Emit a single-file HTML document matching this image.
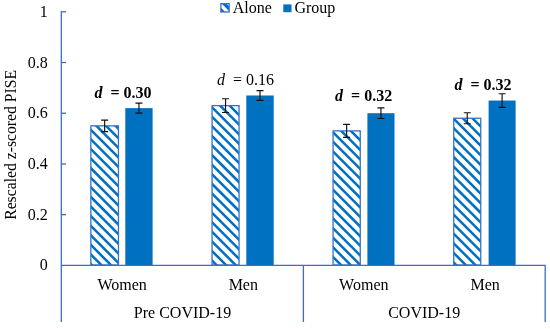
<!DOCTYPE html>
<html><head><meta charset="utf-8"><title>chart</title>
<style>
html,body{margin:0;padding:0;background:#fff;}
body{width:550px;height:329px;overflow:hidden;}
svg{display:block;will-change:transform;}
text{font-family:"Liberation Serif","Times New Roman",serif;font-size:16px;fill:#000;}
</style></head><body>
<svg width="550" height="329" viewBox="0 0 550 329">
<defs>
</defs>
<rect width="550" height="329" fill="#fff"/>

<clipPath id="c0"><rect x="90.85" y="125.85" width="27.60" height="139.15"/></clipPath>
<rect x="90.85" y="125.85" width="27.60" height="139.15" fill="#fff"/>
<path clip-path="url(#c0)" d="M87.85,69.32 L121.45,102.92 M87.85,78.91 L121.45,112.51 M87.85,88.50 L121.45,122.10 M87.85,98.09 L121.45,131.69 M87.85,107.68 L121.45,141.28 M87.85,117.27 L121.45,150.87 M87.85,126.86 L121.45,160.46 M87.85,136.45 L121.45,170.05 M87.85,146.04 L121.45,179.64 M87.85,155.63 L121.45,189.23 M87.85,165.22 L121.45,198.82 M87.85,174.81 L121.45,208.41 M87.85,184.40 L121.45,218.00 M87.85,193.99 L121.45,227.59 M87.85,203.58 L121.45,237.18 M87.85,213.17 L121.45,246.77 M87.85,222.76 L121.45,256.36 M87.85,232.35 L121.45,265.95 M87.85,241.94 L121.45,275.54 M87.85,251.53 L121.45,285.13 M87.85,261.12 L121.45,294.72 M87.85,270.71 L121.45,304.31 M87.85,280.30 L121.45,313.90" stroke="#0070C0" stroke-width="2.50" fill="none"/>
<rect x="90.85" y="125.85" width="27.60" height="139.15" fill="none" stroke="#3572C8" stroke-width="1.3"/>
<rect x="125.30" y="108.14" width="27.30" height="156.86" fill="#0070C0"/>
<path d="M104.65,120.15 V131.55 M101.15,120.15 H108.15 M101.15,131.55 H108.15" stroke="#111" stroke-width="1.15" fill="none"/>
<path d="M138.95,103.14 V113.14 M135.45,103.14 H142.45 M135.45,113.14 H142.45" stroke="#111" stroke-width="1.15" fill="none"/>
<clipPath id="c1"><rect x="212.05" y="105.61" width="27.00" height="159.39"/></clipPath>
<rect x="212.05" y="105.61" width="27.00" height="159.39" fill="#fff"/>
<path clip-path="url(#c1)" d="M209.05,56.26 L242.05,89.26 M209.05,65.85 L242.05,98.85 M209.05,75.44 L242.05,108.44 M209.05,85.03 L242.05,118.03 M209.05,94.62 L242.05,127.62 M209.05,104.21 L242.05,137.21 M209.05,113.80 L242.05,146.80 M209.05,123.39 L242.05,156.39 M209.05,132.98 L242.05,165.98 M209.05,142.57 L242.05,175.57 M209.05,152.16 L242.05,185.16 M209.05,161.75 L242.05,194.75 M209.05,171.34 L242.05,204.34 M209.05,180.93 L242.05,213.93 M209.05,190.52 L242.05,223.52 M209.05,200.11 L242.05,233.11 M209.05,209.70 L242.05,242.70 M209.05,219.29 L242.05,252.29 M209.05,228.88 L242.05,261.88 M209.05,238.47 L242.05,271.47 M209.05,248.06 L242.05,281.06 M209.05,257.65 L242.05,290.65 M209.05,267.24 L242.05,300.24 M209.05,276.83 L242.05,309.83 M209.05,286.42 L242.05,319.42" stroke="#0070C0" stroke-width="2.50" fill="none"/>
<rect x="212.05" y="105.61" width="27.00" height="159.39" fill="none" stroke="#3572C8" stroke-width="1.3"/>
<rect x="246.30" y="95.49" width="27.40" height="169.51" fill="#0070C0"/>
<path d="M225.55,98.71 V112.51 M222.05,98.71 H229.05 M222.05,112.51 H229.05" stroke="#111" stroke-width="1.15" fill="none"/>
<path d="M260.00,90.59 V100.39 M256.50,90.59 H263.50 M256.50,100.39 H263.50" stroke="#111" stroke-width="1.15" fill="none"/>
<clipPath id="c2"><rect x="333.05" y="130.91" width="27.20" height="134.09"/></clipPath>
<rect x="333.05" y="130.91" width="27.20" height="134.09" fill="#fff"/>
<path clip-path="url(#c2)" d="M330.05,81.36 L363.25,114.56 M330.05,90.95 L363.25,124.15 M330.05,100.54 L363.25,133.74 M330.05,110.13 L363.25,143.33 M330.05,119.72 L363.25,152.92 M330.05,129.31 L363.25,162.51 M330.05,138.90 L363.25,172.10 M330.05,148.49 L363.25,181.69 M330.05,158.08 L363.25,191.28 M330.05,167.67 L363.25,200.87 M330.05,177.26 L363.25,210.46 M330.05,186.85 L363.25,220.05 M330.05,196.44 L363.25,229.64 M330.05,206.03 L363.25,239.23 M330.05,215.62 L363.25,248.82 M330.05,225.21 L363.25,258.41 M330.05,234.80 L363.25,268.00 M330.05,244.39 L363.25,277.59 M330.05,253.98 L363.25,287.18 M330.05,263.57 L363.25,296.77 M330.05,273.16 L363.25,306.36 M330.05,282.75 L363.25,315.95" stroke="#0070C0" stroke-width="2.50" fill="none"/>
<rect x="333.05" y="130.91" width="27.20" height="134.09" fill="none" stroke="#3572C8" stroke-width="1.3"/>
<rect x="367.40" y="113.20" width="27.10" height="151.80" fill="#0070C0"/>
<path d="M346.65,124.41 V137.41 M343.15,124.41 H350.15 M343.15,137.41 H350.15" stroke="#111" stroke-width="1.15" fill="none"/>
<path d="M380.95,107.90 V118.50 M377.45,107.90 H384.45 M377.45,118.50 H384.45" stroke="#111" stroke-width="1.15" fill="none"/>
<clipPath id="c3"><rect x="453.75" y="118.26" width="27.00" height="146.74"/></clipPath>
<rect x="453.75" y="118.26" width="27.00" height="146.74" fill="#fff"/>
<path clip-path="url(#c3)" d="M450.75,67.80 L483.75,100.80 M450.75,77.39 L483.75,110.39 M450.75,86.98 L483.75,119.98 M450.75,96.57 L483.75,129.57 M450.75,106.16 L483.75,139.16 M450.75,115.75 L483.75,148.75 M450.75,125.34 L483.75,158.34 M450.75,134.93 L483.75,167.93 M450.75,144.52 L483.75,177.52 M450.75,154.11 L483.75,187.11 M450.75,163.70 L483.75,196.70 M450.75,173.29 L483.75,206.29 M450.75,182.88 L483.75,215.88 M450.75,192.47 L483.75,225.47 M450.75,202.06 L483.75,235.06 M450.75,211.65 L483.75,244.65 M450.75,221.24 L483.75,254.24 M450.75,230.83 L483.75,263.83 M450.75,240.42 L483.75,273.42 M450.75,250.01 L483.75,283.01 M450.75,259.60 L483.75,292.60 M450.75,269.19 L483.75,302.19 M450.75,278.78 L483.75,311.78 M450.75,288.37 L483.75,321.37" stroke="#0070C0" stroke-width="2.50" fill="none"/>
<rect x="453.75" y="118.26" width="27.00" height="146.74" fill="none" stroke="#3572C8" stroke-width="1.3"/>
<rect x="488.60" y="100.55" width="27.00" height="164.45" fill="#0070C0"/>
<path d="M467.25,112.76 V123.76 M463.75,112.76 H470.75 M463.75,123.76 H470.75" stroke="#111" stroke-width="1.15" fill="none"/>
<path d="M502.10,93.75 V107.35 M498.60,93.75 H505.60 M498.60,107.35 H505.60" stroke="#111" stroke-width="1.15" fill="none"/>
<path d="M61.3,11.15 V322 M60.65,265.4 H545.85 M303.4,265.4 V322 M545.2,265.4 V322" stroke="#3D6DC5" stroke-width="1.3" fill="none"/>
<path d="M61.3,214.68 H66" stroke="#3D6DC5" stroke-width="1.3" fill="none"/>
<path d="M61.3,163.96 H66" stroke="#3D6DC5" stroke-width="1.3" fill="none"/>
<path d="M61.3,113.24 H66" stroke="#3D6DC5" stroke-width="1.3" fill="none"/>
<path d="M61.3,62.52 H66" stroke="#3D6DC5" stroke-width="1.3" fill="none"/>
<path d="M61.3,11.80 H66" stroke="#3D6DC5" stroke-width="1.3" fill="none"/>
<text x="47.8" y="270.10" text-anchor="end">0</text>
<text x="47.8" y="219.50" text-anchor="end">0.2</text>
<text x="47.8" y="168.90" text-anchor="end">0.4</text>
<text x="47.8" y="118.30" text-anchor="end">0.6</text>
<text x="47.8" y="67.70" text-anchor="end">0.8</text>
<text x="47.8" y="17.10" text-anchor="end">1</text>
<text transform="translate(16.0,144.9) rotate(-90)" text-anchor="middle" style="font-size:15.7px">Rescaled z-scored PISE</text>
<clipPath id="lg"><rect x="220.85" y="3.65" width="8.3" height="8.3"/></clipPath>
<rect x="220.85" y="3.65" width="8.3" height="8.3" fill="#fff"/>
<path clip-path="url(#lg)" d="M215,-5.4 L235,14.6 M215,4.1 L235,24.1" stroke="#0070C0" stroke-width="3.3" fill="none"/>
<rect x="220.85" y="3.65" width="8.3" height="8.3" fill="none" stroke="#3D6DC5" stroke-width="1.3"/>
<text x="232.7" y="12.7">Alone</text>
<rect x="283.3" y="4.4" width="8.2" height="7.8" fill="#0070C0"/>
<text x="294.4" y="12.7">Group</text>
<text x="122.1" y="289.6" text-anchor="middle">Women</text>
<text x="243.3" y="289.6" text-anchor="middle">Men</text>
<text x="363.8" y="289.6" text-anchor="middle">Women</text>
<text x="485.1" y="289.6" text-anchor="middle">Men</text>
<text x="182.5" y="317.8" text-anchor="middle">Pre COVID-19</text>
<text x="424.2" y="317.8" text-anchor="middle">COVID-19</text>
<text x="94.5" y="98.2" xml:space="preserve" style="white-space:pre" font-weight="bold"><tspan font-style="italic">d</tspan>  = 0.30</text>
<text x="216.9" y="85.0" xml:space="preserve" style="white-space:pre"><tspan font-style="italic">d</tspan>  = 0.16</text>
<text x="335.1" y="100.9" xml:space="preserve" style="white-space:pre" font-weight="bold"><tspan font-style="italic">d</tspan>  = 0.32</text>
<text x="454.5" y="89.6" xml:space="preserve" style="white-space:pre" font-weight="bold"><tspan font-style="italic">d</tspan>  = 0.32</text>
</svg></body></html>
